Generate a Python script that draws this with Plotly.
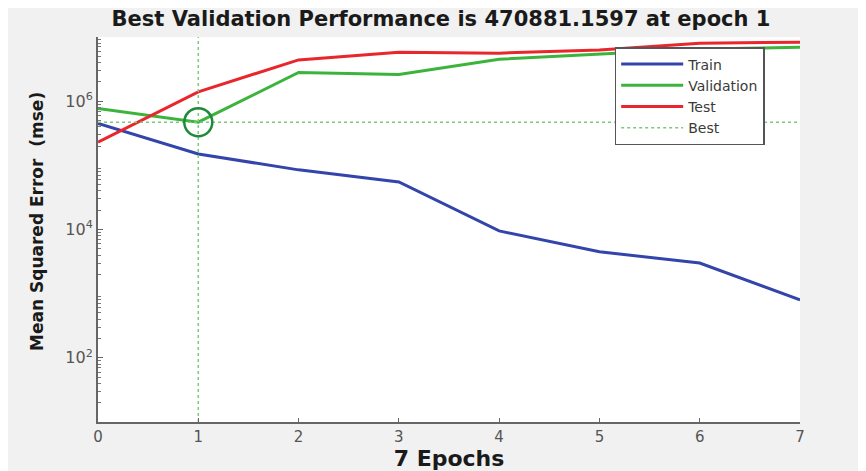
import plotly.graph_objects as go

epochs = [0, 1, 2, 3, 4, 5, 6, 7]
train = [4.5e5, 1.5e5, 8.5e4, 5.5e4, 9.5e3, 4.5e3, 3.0e3, 8.0e2]
validation = [7.7e5, 470881.1597, 2.8e6, 2.6e6, 4.5e6, 5.4e6, 6.5e6, 6.9e6]
test = [2.3e5, 1.4e6, 4.4e6, 5.8e6, 5.6e6, 6.3e6, 8.0e6, 8.3e6]
best_epoch = 1
best_value = 470881.1597

ytick_vals = [1e2, 1e4, 1e6]
ytick_text = ["10<sup>2</sup>", "10<sup>4</sup>", "10<sup>6</sup>"]
minor_vals = [m * 10 ** e for e in range(1, 7) for m in range(2, 10)]

FONT = "DejaVu Sans"

fig = go.Figure()
fig.add_trace(go.Scatter(x=epochs, y=train, mode="lines", name="Train",
                         line=dict(color="#3344aa", width=3)))
fig.add_trace(go.Scatter(x=epochs, y=validation, mode="lines", name="Validation",
                         line=dict(color="#3cb43c", width=3)))
fig.add_trace(go.Scatter(x=epochs, y=test, mode="lines", name="Test",
                         line=dict(color="#e8262b", width=3)))
fig.add_trace(go.Scatter(x=[0, 7], y=[best_value, best_value], mode="lines", name="Best",
                         line=dict(color="#7cc87c", width=1.5, dash="dot")))
fig.add_trace(go.Scatter(x=[best_epoch, best_epoch], y=[10, 1e7], mode="lines",
                         showlegend=False, line=dict(color="#7cc87c", width=1.5, dash="dot")))
fig.add_trace(go.Scatter(x=[best_epoch], y=[best_value], mode="markers", showlegend=False,
                         marker=dict(symbol="circle-open", size=28, color="#1e8a3a",
                                     line=dict(width=2.5, color="#1e8a3a"))))

fig.update_layout(
    width=866, height=471,
    margin=dict(l=90, r=74, t=29, b=57),
    paper_bgcolor="#f0f1f0",
    plot_bgcolor="white",
    title=dict(text="<b>Best Validation Performance is 470881.1597 at epoch 1</b>",
               x=0.5, xanchor="center", y=0.977, yanchor="middle",
               font=dict(family=FONT, size=21, color="#1a1a1a")),
    font=dict(family=FONT),
    legend=dict(x=0.736, y=0.974, xanchor="left", yanchor="top",
                bgcolor="white", bordercolor="#555555", borderwidth=1.5,
                font=dict(size=14, color="#3a3a3a"), tracegroupgap=0,
                itemwidth=62),
    showlegend=True,
    annotations=[dict(text="<b>Mean Squared Error  (mse)</b>", textangle=-90,
                      xref="paper", yref="paper", x=-0.087, y=0.522,
                      xanchor="center", yanchor="middle", showarrow=False,
                      font=dict(family=FONT, size=17, color="#1a1a1a"))],
)
fig.update_xaxes(range=[0, 7], dtick=1, showline=True, linecolor="#666666", linewidth=2,
                 ticks="inside", ticklen=4, tickcolor="#666666", showgrid=False, zeroline=False,
                 tickfont=dict(size=15, color="#555555"),
                 title=dict(text="<b>7 Epochs</b>", font=dict(size=22, color="#1a1a1a"), standoff=6))
fig.update_yaxes(type="log", range=[1, 7], tickvals=ytick_vals, ticktext=ytick_text,
                 showline=True, linecolor="#666666", linewidth=2,
                 ticks="inside", ticklen=5, tickcolor="#666666", showgrid=False, zeroline=False,
                 minor=dict(tickvals=minor_vals, ticks="inside", ticklen=3, tickcolor="#777777"),
                 tickfont=dict(size=16, color="#555555"))

fig.write_html("out.html")
